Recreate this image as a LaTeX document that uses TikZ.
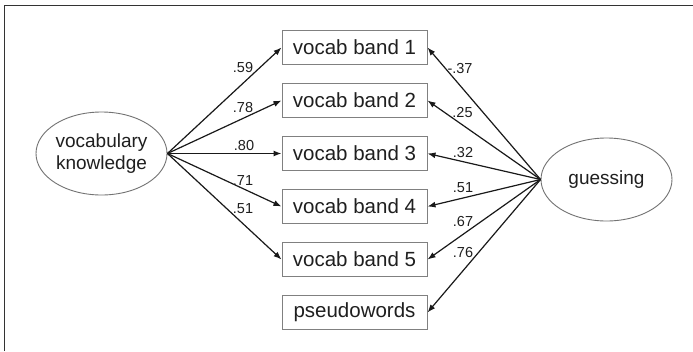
\documentclass[tikz,border=0pt]{standalone}
\usepackage{fontspec}
\setmainfont{Liberation Sans}
\usetikzlibrary{shapes.geometric,arrows.meta}
\tikzset{
  latent/.style={ellipse, draw=black!55, line width=0.9pt, minimum width=131pt, minimum height=83pt, inner sep=0pt, align=center, text=black!88, font=\fontsize{19}{22}\selectfont},
  obsbox/.style={rectangle, draw=black!50, line width=1pt, minimum width=145pt, minimum height=33.5pt, inner sep=0pt, text=black!88, font=\fontsize{20.5}{24}\selectfont},
  arr/.style={draw=black!90, line width=1.2pt, -{Latex[length=8pt,width=6pt]}},
  lbl/.style={inner sep=0pt, text=black!88, font=\fontsize{14.5}{17}\selectfont},
  frameline/.style={draw=black!80, line width=1.6pt}
}
\begin{document}
\begin{tikzpicture}[x=1pt,y=-1pt]
\useasboundingbox[fill=white] (0,0) rectangle (693,351);
\draw[frameline] (4.5,351) -- (4.5,5.5) -- (693,5.5);

\node[latent] (vk) at (101.5,153.5) {vocabulary\\knowledge};
\node[latent] (gs) at (606.5,179.5) {guessing};

\node[obsbox] (b1) at (354.5,47.5) {vocab band 1};
\node[obsbox] (b2) at (354.5,100.5) {vocab band 2};
\node[obsbox] (b3) at (354.5,153.5) {vocab band 3};
\node[obsbox] (b4) at (354.5,206.5) {vocab band 4};
\node[obsbox] (b5) at (354.5,259.5) {vocab band 5};
\node[obsbox] (pw) at (354.5,312.5) {pseudowords};

\draw[arr] (vk.east) -- (b1.west);
\draw[arr] (vk.east) -- (b2.west);
\draw[arr] (vk.east) -- (b3.west);
\draw[arr] (vk.east) -- (b4.west);
\draw[arr] (vk.east) -- (b5.west);

\draw[arr] (gs.west) -- (b1.east);
\draw[arr] (gs.west) -- (b2.east);
\draw[arr] (gs.west) -- (b3.east);
\draw[arr] (gs.west) -- (b4.east);
\draw[arr] (gs.west) -- (b5.east);
\draw[arr] (gs.west) -- (pw.east);

\node[lbl] (l1) at (243,68) {.59};
\node[lbl] (l2) at (243,107.5) {.78};
\node[lbl] (l3) at (244,146) {.80};
\node[lbl] (l4) at (243,181) {.71};
\node[lbl] (l5) at (243,209) {.51};

\node[lbl] (r1) at (460,68.5) {-.37};
\node[lbl] (r2) at (462.5,113) {.25};
\node[lbl] (r3) at (463,153) {.32};
\node[lbl] (r4) at (463,188) {.51};
\node[lbl] (r5) at (463,222) {.67};
\node[lbl] (r6) at (463,253) {.76};
\end{tikzpicture}
\end{document}
